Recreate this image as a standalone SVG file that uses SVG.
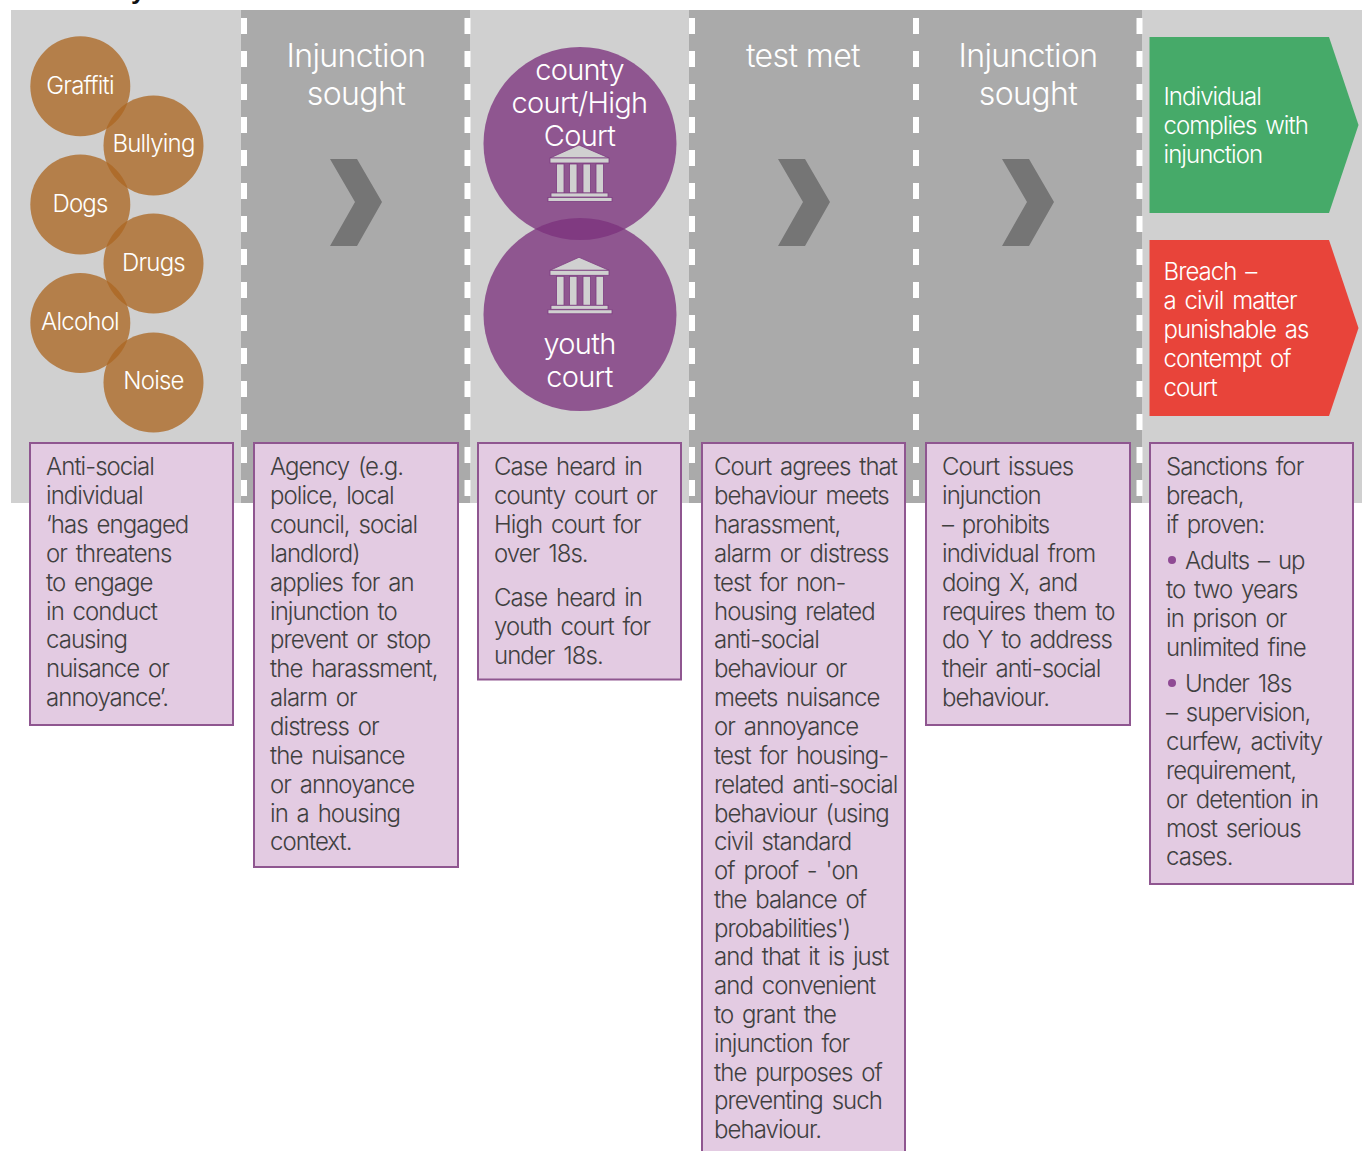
<svg xmlns="http://www.w3.org/2000/svg" width="1362" height="1151" viewBox="0 0 1362 1151">
<style>
text{font-family:"Inter","Liberation Sans",sans-serif;font-weight:300}
.body{font-size:24px;fill:#404040;letter-spacing:-.95px;word-spacing:3px}
.head{font-size:32px;fill:#fff;text-anchor:middle;letter-spacing:-.6px}
.crt{font-size:29px;fill:#fff;text-anchor:middle;letter-spacing:-.7px}
.lab{font-size:24px;fill:#fff;text-anchor:middle;letter-spacing:-.8px}
.arr{font-size:24px;fill:#fff;letter-spacing:-.95px;word-spacing:3px}
.light{fill:#d0d0d0}.dark{fill:#aaa}
.dash{stroke:#fff;stroke-width:6;stroke-dasharray:16 17;fill:none}
.box{fill:#e3cbe2;stroke:#8f5690;stroke-width:2}
.orange{fill:#ac6722;opacity:.77}
.purple{fill:#7c317d;opacity:.77}
.chev{fill:#757575}
.bul{fill:#8f4a94}
.ico{fill:#d0d0d0;stroke:#7d3c80;stroke-width:.8}
</style>
<defs>
<g id="court">
<path class="ico" d="M579 145L609 158H550Z"/>
<rect class="ico" x="550" y="158" width="59" height="5"/>
<rect class="ico" x="556.500" y="164" width="7.500" height="29"/>
<rect class="ico" x="569.500" y="164" width="7.500" height="29"/>
<rect class="ico" x="583" y="164" width="7.500" height="29"/>
<rect class="ico" x="596" y="164" width="7.500" height="29"/>
<rect class="ico" x="551" y="193" width="57" height="4"/>
<rect class="ico" x="548" y="197.500" width="64" height="4"/>
</g>
</defs>
<text x="131" y="-1" style="font-family:'Liberation Sans',sans-serif;font-weight:700;font-size:26px;letter-spacing:0;fill:#111">y</text>
<g id="bands">
<rect class="light" x="11" y="10" width="230" height="493"/>
<rect class="dark" x="241" y="10" width="229" height="493"/>
<rect class="light" x="470" y="10" width="219" height="493"/>
<rect class="dark" x="689" y="10" width="453" height="493"/>
<rect class="light" x="1142" y="10" width="220" height="493"/>
<path class="dash" d="M244 18V503M467.500 18V503M692 18V503M916 18V503M1139.500 18V503"/>
</g>
<g id="connectors">
<path id="chevron-1" class="chev" d="M330 159H357L382 202L357 246H330L355 202Z"/>
<path id="chevron-2" class="chev" transform="translate(448 0)" d="M330 159H357L382 202L357 246H330L355 202Z"/>
<path id="chevron-3" class="chev" transform="translate(672 0)" d="M330 159H357L382 202L357 246H330L355 202Z"/>
</g>
<g id="node-graffiti"><circle class="orange" cx="80.300" cy="86.300" r="50"/><text class="lab" x="80" y="94">Graffiti</text></g>
<g id="node-bullying"><circle class="orange" cx="153.500" cy="145.500" r="50"/><text class="lab" x="153.500" y="152">Bullying</text></g>
<g id="node-dogs"><circle class="orange" cx="80.300" cy="204.500" r="50"/><text class="lab" x="80" y="212">Dogs</text></g>
<g id="node-drugs"><circle class="orange" cx="153.500" cy="263.500" r="50"/><text class="lab" x="153.500" y="271">Drugs</text></g>
<g id="node-alcohol"><circle class="orange" cx="80.300" cy="323" r="50"/><text class="lab" x="80" y="330">Alcohol</text></g>
<g id="node-noise"><circle class="orange" cx="153.500" cy="382.500" r="50"/><text class="lab" x="153.500" y="389">Noise</text></g>
<g id="head-sought-1"><text class="head" x="356" y="67">Injunction</text><text class="head" x="356" y="105">sought</text></g>
<g id="node-county"><circle class="purple" cx="580" cy="143.500" r="96.500"/>
<text class="crt" x="579.500" y="80">county</text><text class="crt" x="579.500" y="113">court/High</text><text class="crt" x="579.500" y="146">Court</text>
<use href="#court"/></g>
<g id="node-youth"><circle class="purple" cx="580" cy="314.500" r="96.500"/>
<use href="#court" y="112.300"/>
<text class="crt" x="579.500" y="354">youth</text><text class="crt" x="579.500" y="387">court</text></g>
<g id="head-test"><text class="head" x="803" y="67">test met</text></g>
<g id="head-sought-2"><text class="head" x="1028" y="67">Injunction</text><text class="head" x="1028" y="105">sought</text></g>
<g id="node-comply"><path fill="#46aa69" d="M1149.500 37H1329L1358.500 125L1329 213H1149.500Z"/>
<text class="arr" x="1163.500" y="105">Individual</text><text class="arr" x="1163.500" y="134">complies with</text><text class="arr" x="1163.500" y="163">injunction</text></g>
<g id="node-breach"><path fill="#e8443a" d="M1149.500 240H1329L1358.500 328L1329 416H1149.500Z"/>
<text class="arr" x="1163.500" y="280">Breach –</text><text class="arr" x="1163.500" y="309">a civil matter</text><text class="arr" x="1163.500" y="338">punishable as</text><text class="arr" x="1163.500" y="367">contempt of</text><text class="arr" x="1163.500" y="396">court</text></g>
<g id="box-1"><rect class="box" x="30" y="443" width="203" height="282"/>
<text class="body" x="46" y="475">Anti-social</text><text class="body" x="46" y="504">individual</text><text class="body" x="46" y="533">‘has engaged</text><text class="body" x="46" y="562">or threatens</text><text class="body" x="46" y="591">to engage</text><text class="body" x="46" y="620">in conduct</text><text class="body" x="46" y="648">causing</text><text class="body" x="46" y="677">nuisance or</text><text class="body" x="46" y="706">annoyance’.</text></g>
<g id="box-2"><rect class="box" x="254" y="443" width="204" height="424"/>
<text class="body" x="270" y="475">Agency (e.g.</text><text class="body" x="270" y="504">police, local</text><text class="body" x="270" y="533">council, social</text><text class="body" x="270" y="562">landlord)</text><text class="body" x="270" y="591">applies for an</text><text class="body" x="270" y="620">injunction to</text><text class="body" x="270" y="648">prevent or stop</text><text class="body" x="270" y="677">the harassment,</text><text class="body" x="270" y="706">alarm or</text><text class="body" x="270" y="735">distress or</text><text class="body" x="270" y="764">the nuisance</text><text class="body" x="270" y="793">or annoyance</text><text class="body" x="270" y="822">in a housing</text><text class="body" x="270" y="850">context.</text></g>
<g id="box-3"><rect class="box" x="478" y="443" width="203" height="236.500"/>
<text class="body" x="494" y="475">Case heard in</text><text class="body" x="494" y="504">county court or</text><text class="body" x="494" y="533">High court for</text><text class="body" x="494" y="562">over 18s.</text><text class="body" x="494" y="606">Case heard in</text><text class="body" x="494" y="635">youth court for</text><text class="body" x="494" y="664">under 18s.</text></g>
<g id="box-4"><rect class="box" x="702" y="443" width="203" height="712"/>
<text class="body" x="714" y="475">Court agrees that</text><text class="body" x="714" y="504">behaviour meets</text><text class="body" x="714" y="533">harassment,</text><text class="body" x="714" y="562">alarm or distress</text><text class="body" x="714" y="591">test for non-</text><text class="body" x="714" y="620">housing related</text><text class="body" x="714" y="648">anti-social</text><text class="body" x="714" y="677">behaviour or</text><text class="body" x="714" y="706">meets nuisance</text><text class="body" x="714" y="735">or annoyance</text><text class="body" x="714" y="764">test for housing-</text><text class="body" x="714" y="793">related anti-social</text><text class="body" x="714" y="822">behaviour (using</text><text class="body" x="714" y="850">civil standard</text><text class="body" x="714" y="879">of proof - 'on</text><text class="body" x="714" y="908">the balance of</text><text class="body" x="714" y="937">probabilities')</text><text class="body" x="714" y="965">and that it is just</text><text class="body" x="714" y="994">and convenient</text><text class="body" x="714" y="1023">to grant the</text><text class="body" x="714" y="1052">injunction for</text><text class="body" x="714" y="1081">the purposes of</text><text class="body" x="714" y="1109">preventing such</text><text class="body" x="714" y="1138">behaviour.</text></g>
<g id="box-5"><rect class="box" x="926" y="443" width="204" height="282"/>
<text class="body" x="942" y="475">Court issues</text><text class="body" x="942" y="504">injunction</text><text class="body" x="942" y="533">– prohibits</text><text class="body" x="942" y="562">individual from</text><text class="body" x="942" y="591">doing X, and</text><text class="body" x="942" y="620">requires them to</text><text class="body" x="942" y="648">do Y to address</text><text class="body" x="942" y="677">their anti-social</text><text class="body" x="942" y="706">behaviour.</text></g>
<g id="box-6"><rect class="box" x="1150" y="443" width="203" height="441"/>
<text class="body" x="1166" y="475">Sanctions for</text><text class="body" x="1166" y="504">breach,</text><text class="body" x="1166" y="533">if proven:</text>
<circle class="bul" cx="1172" cy="560" r="4"/><text class="body" x="1185" y="569">Adults – up</text><text class="body" x="1166" y="598">to two years</text><text class="body" x="1166" y="627">in prison or</text><text class="body" x="1166" y="656">unlimited fine</text>
<circle class="bul" cx="1172" cy="683" r="4"/><text class="body" x="1185" y="692">Under 18s</text><text class="body" x="1166" y="721">– supervision,</text><text class="body" x="1166" y="750">curfew, activity</text><text class="body" x="1166" y="779">requirement,</text><text class="body" x="1166" y="808">or detention in</text><text class="body" x="1166" y="837">most serious</text><text class="body" x="1166" y="865">cases.</text></g>
</svg>
